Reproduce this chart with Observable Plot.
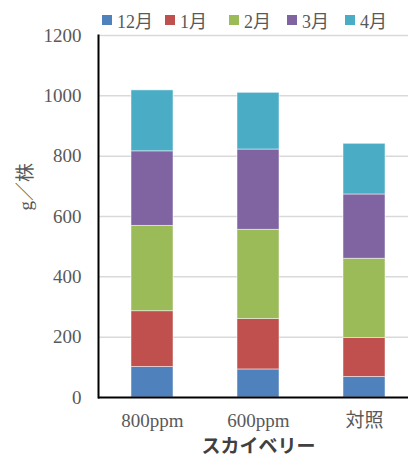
<!DOCTYPE html>
<html>
<head>
<meta charset="utf-8">
<script src="https://cdn.jsdelivr.net/npm/d3@7"></script>
<script src="https://cdn.jsdelivr.net/npm/@observablehq/plot@0.6"></script>
<style>
  html, body { margin: 0; padding: 0; background: #fff; }
  #wrap { position: relative; width: 408px; height: 456px; overflow: hidden; }
  #legend { position: relative; height: 20px; }
  .item { position: absolute; top: 10px; height: 20px; display: flex; align-items: center;
          font-family: "Liberation Serif", "Noto Sans CJK JP", serif; font-size: 18px; color: #595959; white-space: nowrap; }
  .sw { width: 10px; height: 10px; margin-right: 5px; }
  svg { display: block; overflow: visible; }
</style>
</head>
<body>
<div id="wrap">
  <div id="legend"></div>
  <div id="chart"></div>
</div>
<script>
const categories = ["800ppm", "600ppm", "対照"];
const months = ["12月", "1月", "2月", "3月", "4月"];
const colors = ["#4F81BD", "#C0504D", "#9BBB59", "#8064A2", "#4BACC6"];
const dec = [101, 93, 68];
const jan = [185, 167, 129];
const feb = [283, 296, 263];
const mar = [247, 266, 213];
const apr = [202, 188, 168];
const yTicks = [0, 200, 400, 600, 800, 1000, 1200];
const legendX = [102, 165, 229, 287, 345];

const series = [dec, jan, feb, mar, apr];
const data = [];
months.forEach((m, i) => categories.forEach((c, j) => data.push({cat: c, month: m, value: series[i][j]})));

// legend
const leg = document.getElementById("legend");
months.forEach((m, i) => {
  const d = document.createElement("div");
  d.className = "item";
  d.style.left = legendX[i] + "px";
  d.innerHTML = `<span class="sw" style="background:${colors[i]}"></span><span>${m}</span>`;
  leg.appendChild(d);
});

const serif = "'Liberation Serif', 'Noto Sans CJK JP', serif";
const chart = Plot.plot({
  width: 408,
  height: 436,
  marginLeft: 98,
  marginRight: -10,
  marginTop: 15,
  marginBottom: 59,
  style: {fontFamily: serif, fontSize: "19px", color: "#595959", background: "#fff", overflow: "visible"},
  x: {domain: categories, paddingInner: 0.6, paddingOuter: 0.3, label: null},
  y: {domain: [0, 1200], label: null},
  color: {domain: months, range: colors},
  marks: [
    Plot.ruleY(yTicks.filter(d => d > 0), {stroke: "#d9d9d9", strokeWidth: 1.5}),
    Plot.barY(data, {x: "cat", y: "value", z: "month", fill: "month", stroke: "#fff", strokeOpacity: 0.6, strokeWidth: 0.8}),
    Plot.axisY({ticks: yTicks, tickFormat: d => String(d), tickSize: 0, tickPadding: 17, label: null, fill: "#595959", fontFamily: serif, fontSize: 19}),
    Plot.axisX({tickSize: 0, tickPadding: 16, label: null, fill: "#595959", fontFamily: serif, fontSize: 19}),
    Plot.ruleY([0], {stroke: "#000", strokeWidth: 2}),
    Plot.frame({anchor: "left", stroke: "#000", strokeWidth: 2}),
    Plot.text(["スカイベリー"], {frameAnchor: "bottom", dy: 55, fontSize: 19, fontWeight: "bold", fill: "#404040", fontFamily: "'Noto Sans CJK JP', sans-serif"}),
    Plot.text(["g／株"], {frameAnchor: "left", dx: -73, dy: -6, rotate: -90, fontSize: 19, fill: "#595959", fontFamily: serif})
  ]
});
document.getElementById("chart").appendChild(chart);
</script>
</body>
</html>
